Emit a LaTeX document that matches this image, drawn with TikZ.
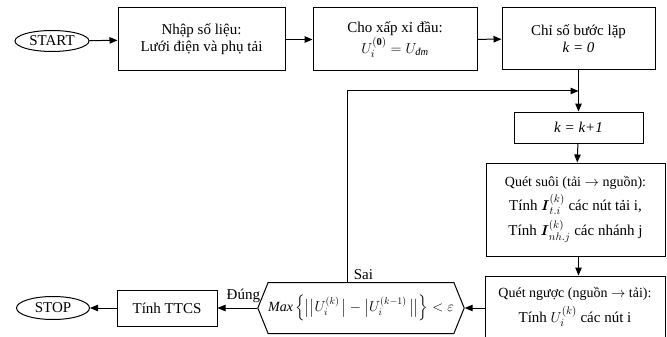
\documentclass[tikz,border=0pt]{standalone}
\usepackage{amsmath}
\usepackage{fontspec}
\setmainfont{Liberation Serif}
\usetikzlibrary{shapes.geometric,shapes.symbols,arrows.meta}
\begin{document}
\begin{tikzpicture}[x=1pt,y=-1pt,
  font=\fontsize{15}{17}\selectfont,
  box/.style={draw,line width=1pt,rectangle,align=center,inner sep=0pt},
  term/.style={draw,line width=1pt,ellipse,inner sep=0pt},
  arr/.style={-{Triangle[length=8pt,width=6.5pt]},line width=1pt}]
\useasboundingbox (0,0) rectangle (667,337);

\node[term,minimum width=74,minimum height=21] (start) at (52,41) {START};
\node[box,minimum width=167,minimum height=63] (b1) at (201.5,39.5) {Nhập số liệu:\\Lưới điện và phụ tải};
\node[box,minimum width=164,minimum height=63] (b2) at (395,39.5) {Cho xấp xỉ đầu:\\[1pt]$U_i^{(\mathbf{0})} = U_{\textit{đm}}$};
\node[box,minimum width=153,minimum height=62] (b3) at (578.5,39) {Chỉ số bước lặp\\\textit{k = 0}};
\node[box,minimum width=129,minimum height=31] (kb) at (578.5,127.5) {\textit{k = k+1}};
\node[box,minimum width=179,minimum height=93] (s1) at (575.5,209.5)
  {{\fontsize{14}{17}\selectfont Quét suôi (tải $\rightarrow$ nguồn):}\\[4pt]
   Tính $\boldsymbol{I}_{t.i}^{(k)}$ các nút tải i,\\[4pt]
   Tính $\boldsymbol{I}_{nh.j}^{(k)}$ các nhánh j};
\node[box,minimum width=180,minimum height=62] (s2) at (575,307)
  {{\fontsize{14}{17}\selectfont Quét ngược (nguồn $\rightarrow$ tải):}\\[5pt]
   Tính $U_i^{(k)}$ các nút i};
\node[draw,line width=1pt,signal,signal to=west and east,signal pointer angle=136,
  minimum width=192,minimum height=51,inner xsep=0pt,inner ysep=2pt,
  font=\fontsize{14}{17}\selectfont] (cond) at (361,308)
  {$\mathit{Max}\,\Bigl\{\bigl|\bigl|U_i^{(k)}\,\bigr|-\bigl|U_i^{(k-1)}\,\bigr|\bigr|\Bigr\}<\varepsilon$};
\node[box,minimum width=100,minimum height=36] (tt) at (167,308) {Tính TTCS};
\node[term,minimum width=73,minimum height=23] (stop) at (53,308) {STOP};

\coordinate (lp) at (347,91);

\draw[arr] (start) -- (b1);
\draw[arr] (b1) -- (b2);
\draw[arr] (b2) -- (b3);
\draw[arr] (b3) -- (kb);
\draw[arr] (kb) -- (s1);
\draw[arr] (s1.south -| kb) -- (s2.north -| kb);
\draw[arr] (s2.west |- cond.east) -- (cond.east);
\draw[arr] (cond.west) -- node[above,pos=0.35,yshift=1pt] {Đúng} (tt);
\draw[arr] (tt) -- (stop);
\draw[arr] (cond.north -| lp) -- node[pos=0.05,right,xshift=3pt,yshift=-2pt] {Sai} (lp) -- (lp -| b3.south);
\end{tikzpicture}
\end{document}
